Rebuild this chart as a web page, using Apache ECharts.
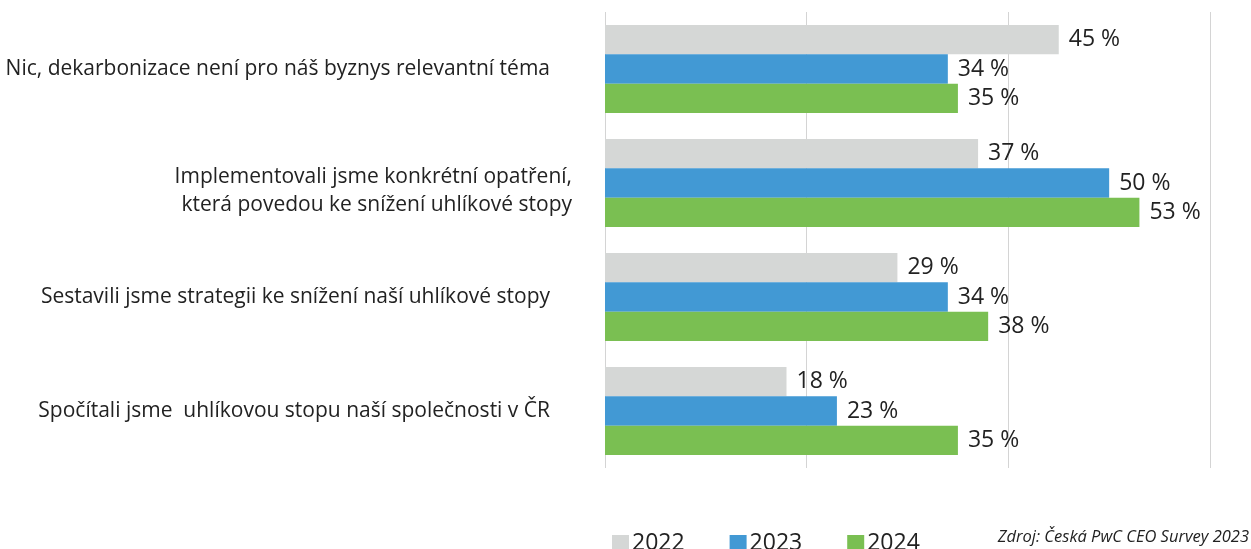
<!DOCTYPE html>
<html>
<head>
<meta charset="utf-8">
<script src="https://cdn.jsdelivr.net/npm/echarts@6/dist/echarts.min.js"></script>
<style>
html,body{margin:0;padding:0;background:#fff;}
#chart{width:1251px;height:549px;}
</style>
</head>
<body>
<div id="chart"></div>
<script>
// kategorie odshora dolu
var categories = [
  'Nic, dekarbonizace není pro náš byznys relevantní téma',
  'Implementovali jsme konkrétní opatření,\nkterá povedou ke snížení uhlíkové stopy',
  'Sestavili jsme strategii ke snížení naší uhlíkové stopy',
  'Spočítali jsme  uhlíkovou stopu naší společnosti v ČR'
];
var years = ['2022', '2023', '2024'];
var v2022 = [45, 37, 29, 18];
var v2023 = [34, 50, 34, 23];
var v2024 = [35, 53, 38, 35];
var colors = ['#d5d7d6', '#4299d4', '#7abf52'];
var font = 'Open Sans';

var chart = echarts.init(document.getElementById('chart'));

function makeSeries(name, data, color) {
  return {
    name: name,
    type: 'bar',
    data: data,
    barGap: '0%',
    barCategoryGap: '23%',
    itemStyle: { color: color },
    label: {
      show: true,
      position: 'right',
      distance: 10,
      formatter: '{c} %',
      color: '#222',
      fontSize: 23,
      fontFamily: font
    }
  };
}

chart.setOption({
  animation: false,
  grid: { left: 605, right: 41, top: 12, bottom: 81 },
  xAxis: {
    type: 'value',
    min: 0,
    max: 60,
    interval: 20,
    axisLabel: { show: false },
    axisLine: { show: false },
    axisTick: { show: false },
    splitLine: { lineStyle: { color: '#d4d4d4', width: 1 } }
  },
  yAxis: {
    type: 'category',
    inverse: true,
    data: categories,
    axisLine: { show: false },
    axisTick: { show: false },
    axisLabel: {
      margin: 33,
      color: '#222',
      fontSize: 21,
      fontFamily: font,
      align: 'right',
      // dvouradkovy popisek je v originale posunuty doprava a dolu
      formatter: function (v) {
        if (v.indexOf('\n') >= 0) {
          return '{e|}\n' + v.split('\n').map(function (l) { return '{w|' + l + '}'; }).join('\n');
        }
        return '{s|' + v + '}';
      },
      rich: {
        e: { lineHeight: 16, fontSize: 1 },
        w: { lineHeight: 28, fontSize: 21, fontFamily: font, color: '#222' },
        s: { lineHeight: 28, fontSize: 21, fontFamily: font, color: '#222', padding: [0, 22, 0, 0] }
      }
    }
  },
  legend: {
    data: years,
    left: 607,
    top: 527,
    itemWidth: 17,
    itemHeight: 17,
    itemGap: 45,
    icon: 'rect',
    textStyle: { color: '#222', fontSize: 23, fontFamily: font, padding: [0, 0, 0, -2] }
  },
  graphic: [{
    type: 'text',
    right: 2,
    top: 529,
    style: {
      text: 'Zdroj: Česká PwC CEO Survey 2023',
      fill: '#222',
      font: 'italic 16.5px ' + font
    }
  }],
  series: [
    makeSeries(years[0], v2022, colors[0]),
    makeSeries(years[1], v2023, colors[1]),
    makeSeries(years[2], v2024, colors[2])
  ]
});
</script>
</body>
</html>
